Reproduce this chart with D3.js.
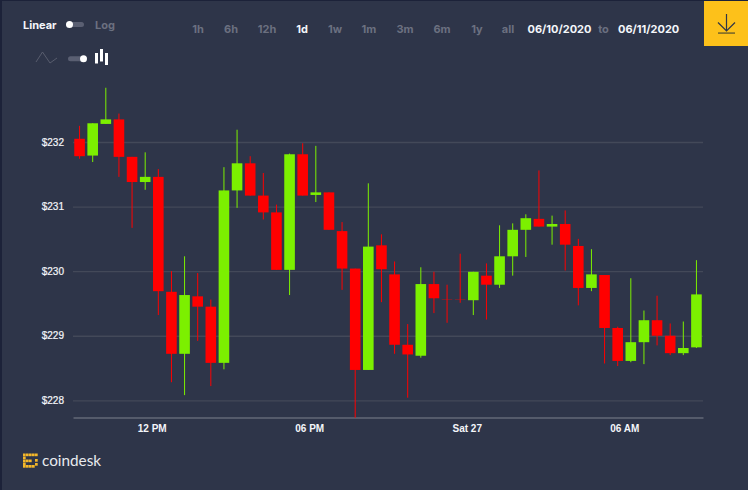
<!DOCTYPE html>
<html>
<head>
<meta charset="utf-8">
<style>
html,body{margin:0;padding:0;background:#2e3549;overflow:hidden}
svg{display:block}
text{font-family:Inter,Roboto,sans-serif}
</style>
<script src="https://cdn.jsdelivr.net/npm/d3@7"></script>
</head>
<body>
<script>
// Half-hourly price candles, starting 09:00 on Fri 26 June
const opens  = [232.05,231.79,232.28,232.35,231.77,231.38,231.46,229.68,228.72,229.61,229.45,228.58,231.25,231.67,231.17,230.91,230.02,231.81,231.18,231.22,230.62,230.04,228.47,230.40,229.95,228.86,228.69,229.80,229.565,229.565,229.55,229.93,229.79,230.23,230.64,230.81,230.69,230.73,230.39,229.74,229.94,229.12,228.61,228.90,229.24,229.00,228.73,228.82];
const closes = [231.78,232.29,232.35,231.77,231.38,231.46,229.69,228.72,229.63,229.45,228.58,231.25,231.67,231.17,230.91,230.02,231.81,231.17,231.22,230.64,230.04,228.47,230.38,230.03,228.86,228.71,229.80,229.58,229.56,229.56,229.99,229.79,230.23,230.64,230.82,230.69,230.73,230.41,229.74,229.95,229.12,228.61,228.90,229.24,229.00,228.73,228.81,229.64];
const highs  = [232.25,232.29,232.84,232.44,231.77,231.84,231.58,230.00,230.23,229.97,229.56,231.61,232.19,231.78,231.52,231.03,231.82,231.98,231.94,231.22,230.76,230.04,231.36,230.57,230.15,229.18,230.06,229.99,229.79,230.27,229.99,230.12,230.71,230.74,230.88,231.56,230.86,230.94,230.50,230.34,229.94,229.14,229.89,229.39,229.62,229.19,229.22,230.17];
const lows   = [231.74,231.69,232.28,231.46,230.67,231.26,229.32,228.28,228.08,228.92,228.22,228.48,230.98,231.17,230.80,230.02,229.63,231.17,231.07,230.64,229.71,227.73,228.47,229.52,228.72,228.04,228.66,229.35,229.20,229.51,229.32,229.25,229.74,229.93,230.22,230.69,230.41,230.01,229.47,229.69,228.57,228.53,228.59,228.56,228.85,228.70,228.70,228.81];

const priceTicks = [228,229,230,231,232];
const timeTicks = [
  {at: Date.UTC(2020,5,26,12), label: "12 PM"},
  {at: Date.UTC(2020,5,26,18), label: "06 PM"},
  {at: Date.UTC(2020,5,27,0),  label: "Sat 27"},
  {at: Date.UTC(2020,5,27,6),  label: "06 AM"}
];
const ranges = ["1h","6h","12h","1d","1w","1m","3m","6m","1y","all"];
const rangeX = [198,231,267,302,335,369,405,442,477,508];
const activeRange = "1d";
const dateFrom = "06/10/2020", dateTo = "06/11/2020";

const W = 748, H = 490;
const firstCandle = Date.UTC(2020,5,26,9);
const halfHour = 30*60*1000;
const plot = {left:73, right:703, bottom:417.5};

const x = d3.scaleUtc().domain([firstCandle, firstCandle + 48*halfHour]).range([plot.left, plot.right]);
const y = d3.scaleLinear().domain([228,232]).range([400.3,142]);

const svg = d3.select("body").append("svg").attr("width",W).attr("height",H);
svg.append("rect").attr("width",W).attr("height",H).attr("fill","#2e3549");
// darker window edge along the top and left
svg.append("rect").attr("width",W).attr("height",1).attr("fill","#1c2239");
svg.append("rect").attr("width",2).attr("height",H).attr("fill","#1c2239");

// price axis with grid lines reaching across the plot
const yAxis = svg.append("g").attr("transform",`translate(${plot.left},0)`)
  .call(d3.axisLeft(y).tickValues(priceTicks).tickSize(-(plot.right-plot.left)).tickPadding(9).tickFormat(d=>"$"+d));
yAxis.select(".domain").remove();
yAxis.selectAll("line").attr("stroke","#434959").attr("stroke-width",1.3);
yAxis.selectAll("text").attr("fill","#f4f6fa").attr("stroke","#f4f6fa").attr("stroke-width",0.2).attr("font-size",10).attr("font-weight",400).style("font-family","'Liberation Sans',sans-serif");

// time axis
const xAxis = svg.append("g").attr("transform",`translate(0,${plot.bottom})`)
  .call(d3.axisBottom(x).tickValues(timeTicks.map(d=>d.at)).tickSize(0).tickPadding(7)
    .tickFormat((d,i)=>timeTicks[i].label));
xAxis.select(".domain").attr("stroke","#555b6b").attr("stroke-width",2);
xAxis.selectAll("text").attr("fill","#f4f6fa").attr("font-size",10).attr("font-weight",700).style("font-family","'Liberation Sans',sans-serif");

// candles
const GREEN = "#7cf000", RED = "#ff0000";
const candles = d3.range(opens.length).map(i=>({
  t:firstCandle+i*halfHour+halfHour/2, open:opens[i], close:closes[i], high:highs[i], low:lows[i]
}));
const bodyWidth = 10.6;
const c = svg.append("g").selectAll("g").data(candles).join("g")
  .attr("fill",d=>d.close>=d.open?GREEN:RED).attr("stroke",d=>d.close>=d.open?GREEN:RED);
c.append("line").attr("x1",d=>x(d.t)).attr("x2",d=>x(d.t)).attr("y1",d=>y(d.high)).attr("y2",d=>y(d.low)).attr("stroke-width",1);
c.append("rect").attr("x",d=>x(d.t)-bodyWidth/2).attr("width",bodyWidth)
  .attr("y",d=>y(Math.max(d.open,d.close)))
  .attr("height",d=>Math.max(0.3,Math.abs(y(d.open)-y(d.close))))
  .attr("stroke","none");

// scale switch
svg.append("text").attr("x",23).attr("y",29).attr("fill","#f4f6fa").attr("font-size",11).attr("font-weight",700).text("Linear");
svg.append("text").attr("x",95).attr("y",29).attr("fill","#6b7080").attr("font-size",11).attr("font-weight",700).text("Log");
svg.append("rect").attr("x",66).attr("y",22).attr("width",18).attr("height",5).attr("rx",2.5).attr("fill","#5a5f72");
svg.append("circle").attr("cx",69.5).attr("cy",24.5).attr("r",3.5).attr("fill","#fff");

// chart type switch
svg.append("polyline").attr("points","36,62 42.5,52 50,63 57,58").attr("fill","none").attr("stroke","#5c6172").attr("stroke-width",0.9);
svg.append("rect").attr("x",68).attr("y",56.3).attr("width",18).attr("height",5).attr("rx",2.5).attr("fill","#5a5f72");
svg.append("circle").attr("cx",83.5).attr("cy",58.8).attr("r",3.5).attr("fill","#fff");
[[95,53,10.5],[100,49,12.5],[105,53,12]].forEach(b=>svg.append("rect").attr("x",b[0]).attr("y",b[1]).attr("width",3).attr("height",b[2]).attr("fill","#fff"));

// range selector
svg.append("g").selectAll("text").data(ranges).join("text")
  .attr("x",(d,i)=>rangeX[i]).attr("y",33).attr("text-anchor","middle")
  .attr("font-size",11).attr("font-weight",700)
  .attr("fill",d=>d===activeRange?"#f4f6fa":"#6b7080").text(d=>d);

// date range
svg.append("text").attr("x",527.5).attr("y",33).attr("fill","#f4f6fa").attr("font-size",11).attr("font-weight",700).text(dateFrom);
svg.append("text").attr("x",603.5).attr("y",33).attr("text-anchor","middle").attr("fill","#6b7080").attr("font-size",11).attr("font-weight",700).text("to");
svg.append("text").attr("x",618).attr("y",33).attr("fill","#f4f6fa").attr("font-size",11).attr("font-weight",700).text(dateTo);

// download button
svg.append("rect").attr("x",704).attr("y",1).attr("width",44).attr("height",45).attr("fill","#fdc11a");
svg.append("path").attr("d","M726.5 14V31M718 22.5L726.5 31L735 22.5").attr("fill","none").attr("stroke","#2e3549").attr("stroke-width",1.2);
svg.append("rect").attr("x",718).attr("y",32.2).attr("width",17).attr("height",1.8).attr("fill","#8a7326");

// footer brand
const mark = svg.append("g").attr("fill","#f4b72a");
[[23,453.5],[26,453.5],[29,453.5],[32,453.5],[35,453.5],[23,456.5],[23,459.5],[23,462.5],[23,465],[26,465],[29,465],[32,465],[26,459.5],[29,459.5],[35,459],[35,463]]
  .forEach(p=>mark.append("rect").attr("x",p[0]).attr("y",p[1]).attr("width",2.7).attr("height",2.7));
svg.append("text").attr("x",42).attr("y",466).attr("fill","#e8eaee").attr("font-size",15.3).attr("font-weight",400).style("font-family","Lato,sans-serif").text("coindesk");
</script>
</body>
</html>
